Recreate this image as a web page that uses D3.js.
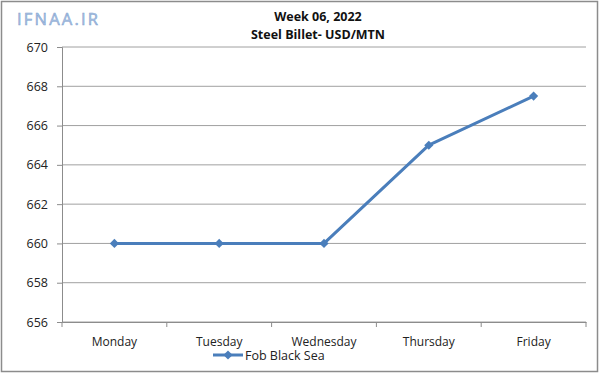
<!DOCTYPE html>
<html>
<head>
<meta charset="utf-8">
<script src="https://cdn.jsdelivr.net/npm/d3@7"></script>
<style>
  body { margin: 0; background: #fff; }
  svg { display: block; font-family: "Open Sans", "Noto Sans", sans-serif; }
</style>
</head>
<body>
<svg width="600" height="374"></svg>
<script>
// chart data
const days = ["Monday", "Tuesday", "Wednesday", "Thursday", "Friday"]
const prices = [660, 660, 660, 665, 667.5]
const yTicks = [656, 658, 660, 662, 664, 666, 668, 670]
const seriesName = "Fob Black Sea"

const svg = d3.select("svg")

// outer frame
svg.append("rect")
	.attr("x", 1.5).attr("y", 1.5)
	.attr("width", 596).attr("height", 370)
	.attr("fill", "#fff")
	.attr("stroke", "#8c8c8c")
	.attr("stroke-width", 1.5)

const plotLeft = 62, plotRight = 586, plotTop = 47, plotBottom = 322

const x = d3.scaleBand().domain(days).range([plotLeft, plotRight])
const y = d3.scaleLinear().domain([656, 670]).range([plotBottom, plotTop])

// gridlines
svg.append("g")
	.selectAll("line")
	.data(yTicks)
	.join("line")
	.attr("x1", plotLeft).attr("x2", plotRight)
	.attr("y1", d => y(d)).attr("y2", d => y(d))
	.attr("stroke", "#a0a0a0")
	.attr("stroke-width", 1)

// y axis
const yAxis = svg.append("g")
	.attr("transform", `translate(${plotLeft},0)`)
	.call(d3.axisLeft(y).tickValues(yTicks).tickSize(5).tickPadding(9).tickFormat(d3.format("d")))
yAxis.select(".domain").attr("stroke", "#8c8c8c")
yAxis.selectAll(".tick line").attr("stroke", "#8c8c8c")
yAxis.selectAll("text").attr("font-size", 12.5).attr("fill", "#222").attr("font-family", "Open Sans")

// x axis with ticks at band edges
const xAxis = svg.append("g")
	.attr("transform", `translate(0,${plotBottom})`)
	.call(d3.axisBottom(x).tickSize(0).tickPadding(15))
xAxis.select(".domain").attr("stroke", "#8c8c8c")
xAxis.selectAll("text").attr("font-size", 12).attr("fill", "#222").attr("font-family", "Open Sans")
xAxis.selectAll("line.edge")
	.data(days.map(d => x(d)).concat([plotRight]))
	.join("line")
	.attr("class", "edge")
	.attr("x1", d => d).attr("x2", d => d)
	.attr("y1", 0).attr("y2", 5)
	.attr("stroke", "#8c8c8c")

// line series
const lineGen = d3.line()
	.x((d, i) => x(days[i]) + x.bandwidth() / 2)
	.y(d => y(d))

const blue = "#4a7ebb"
svg.append("path")
	.datum(prices)
	.attr("d", lineGen)
	.attr("fill", "none")
	.attr("stroke", blue)
	.attr("stroke-width", 3)
	.attr("stroke-linejoin", "round")

// diamond markers (rotated squares)
const marker = d3.symbol().type(d3.symbolSquare).size(42)
svg.append("g")
	.selectAll("path")
	.data(prices)
	.join("path")
	.attr("d", marker)
	.attr("transform", (d, i) => `translate(${x(days[i]) + x.bandwidth() / 2},${y(d)}) rotate(45)`)
	.attr("fill", blue)

// titles
const title = svg.append("g").attr("font-weight", "bold").attr("text-anchor", "middle").attr("fill", "#111")
title.append("text").attr("x", 318).attr("y", 21).attr("font-size", 12.5).text("Week 06, 2022")
title.append("text").attr("x", 318).attr("y", 39).attr("font-size", 12.5).text("Steel Billet- USD/MTN")

// watermark
svg.append("text")
	.attr("x", 17).attr("y", 25)
	.attr("font-size", 16.5)
	.attr("letter-spacing", 2.2)
	.attr("font-family", "Open Sans")
	.attr("fill", "#a9c2e2")
	.attr("stroke", "#7f9fcf")
	.attr("stroke-width", 0.5)
	.text("IFNAA.IR")

// legend
const legend = svg.append("g").attr("transform", "translate(213,355)")
legend.append("line").attr("x1", 0).attr("x2", 30).attr("stroke", blue).attr("stroke-width", 3)
legend.append("path").attr("d", marker).attr("transform", "translate(15,0) rotate(45)").attr("fill", blue)
legend.append("text").attr("x", 32).attr("y", 4.5).attr("font-size", 12.5).attr("fill", "#222").text(seriesName)
</script>
</body>
</html>
